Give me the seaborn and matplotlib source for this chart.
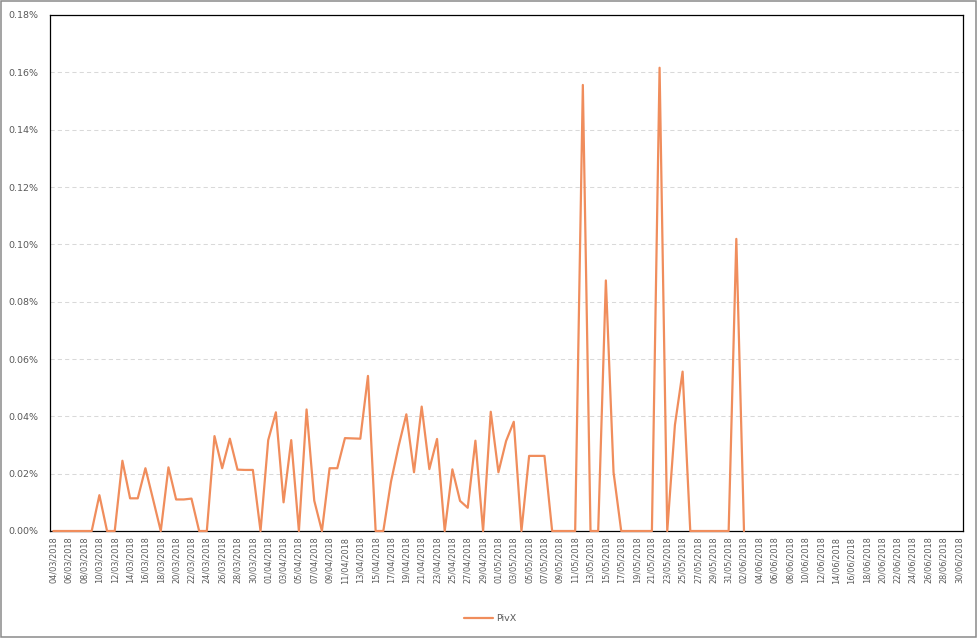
import numpy as np
import pandas as pd
import matplotlib
matplotlib.use("Agg")
import matplotlib.pyplot as plt
from matplotlib.patches import Rectangle
from matplotlib.ticker import FuncFormatter
import seaborn as sns

# ---- data ----
dates = pd.date_range("2018-03-04", "2018-06-30", freq="D").strftime("%d/%m/%Y").tolist()

# PivX values in percent (04/03/2018 .. 02/06/2018)
march = [0, 0, 0, 0, 0, 0, 0.0125, 0, 0, 0.0245, 0.0114, 0.0114, 0.0219, 0.011,
         0, 0.0222, 0.011, 0.011, 0.0113, 0, 0, 0.0331, 0.0219, 0.0322, 0.0214,
         0.0213, 0.0213, 0]
april = [0.0317, 0.0414, 0.0100, 0.0317, 0, 0.0424, 0.0106, 0, 0.0219, 0.0219,
         0.0324, 0.0323, 0.0322, 0.0541, 0, 0, 0.0172, 0.0297, 0.0407, 0.0205,
         0.0434, 0.0216, 0.0321, 0, 0.0215, 0.0105, 0.0081, 0.0315, 0, 0.0416]
may = [0.0205, 0.0314, 0.0381, 0, 0.0262, 0.0262, 0.0262, 0, 0, 0, 0, 0.1556,
       0, 0, 0.0874, 0.0205, 0, 0, 0, 0, 0, 0.1616, 0, 0.037, 0.0556, 0,
       0, 0, 0, 0, 0]
june = [0.1019, 0]

pivx = march + april + may + june
pivx = pivx + [np.nan] * (len(dates) - len(pivx))
series_name = "PivX"

df = pd.DataFrame({"idx": np.arange(len(dates)), "date": dates, "value": pivx})

# ---- style ----
sns.set_theme(style="white")
plt.rcParams["font.family"] = ["DejaVu Sans"]

line_color = "#F08D5C"
text_color = "#595959"

fig = plt.figure(figsize=(9.77, 6.38), dpi=100)
ax = fig.add_axes([49.5 / 977, 107 / 638, (962.7 - 49.5) / 977, (531 - 15) / 638])

sns.lineplot(data=df, x="idx", y="value", ax=ax, color=line_color,
             linewidth=1.6, label=series_name, legend=False, zorder=5)
for ln in ax.lines:
    ln.set_clip_on(False)

ax.set_xlim(-0.5, len(dates) - 0.5)
ax.set_ylim(0, 0.18)
ax.set_yticks(np.arange(0, 0.181, 0.02))
ax.yaxis.set_major_formatter(FuncFormatter(lambda v, p: f"{v:.2f}%"))
ax.set_xticks(df["idx"][::2])
ax.set_xticklabels(df["date"][::2], rotation=90)
ax.set_xlabel("")
ax.set_ylabel("")

ax.tick_params(axis="x", length=0, pad=4, labelsize=5.9, labelcolor=text_color)
ax.tick_params(axis="y", length=0, pad=8, labelsize=6.8, labelcolor=text_color)

ax.grid(axis="y", color="#d9d9d9", linestyle=(0, (4, 3)), linewidth=0.75)
ax.grid(axis="x", visible=False)
ax.set_axisbelow(True)
for s in ax.spines.values():
    s.set_visible(True)
    s.set_color("black")
    s.set_linewidth(0.9)
    s.set_zorder(2)

handles, labels = ax.get_legend_handles_labels()
fig.legend(handles, labels, loc="center", bbox_to_anchor=(0.502, 0.03),
           frameon=False, fontsize=6.8, labelcolor=text_color,
           handlelength=3.0, handletextpad=0.4)

fig.patches.append(Rectangle((0.0006, 0.0009), 0.9988, 0.9982, transform=fig.transFigure,
                             fill=False, edgecolor="#8a8a8a", linewidth=1.1))

fig.savefig("out.png", dpi=100)
